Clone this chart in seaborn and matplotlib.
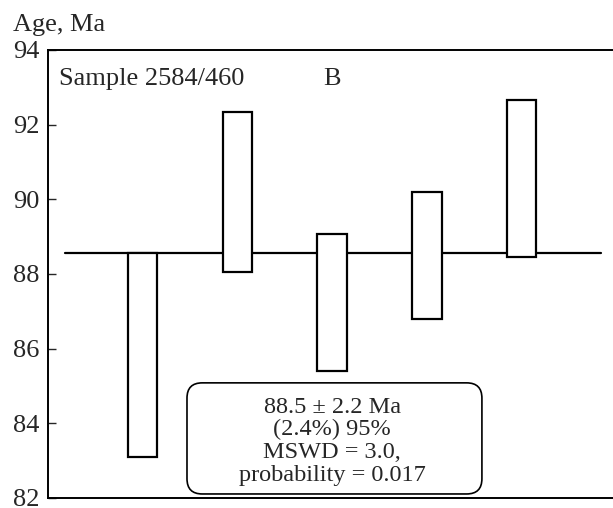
"""
Weighted mean age plot, sample 2584/460 (B).
"""

import matplotlib
matplotlib.use("Agg")
import matplotlib.pyplot as plt
from matplotlib.patches import FancyBboxPatch
import pandas as pd
import seaborn as sns


SPOTS: list[int] = [1, 2, 3, 4, 5]
AGE_LOW: list[float] = [83.09, 88.05, 85.39, 86.79, 88.45]
AGE_HIGH: list[float] = [88.55, 92.34, 89.06, 90.20, 92.67]
MEAN_AGE: float = 88.55
Y_TICKS: list[int] = [82, 84, 86, 88, 90, 92, 94]

SAMPLE_LABEL = "Sample 2584/460"
PANEL_LABEL = "B"
RESULT_TEXT = "88.5 ± 2.2 Ma\n(2.4%) 95%\nMSWD = 3.0,\nprobability = 0.017"


def create_dataframe() -> pd.DataFrame:
    """
    Build the spot table with box heights.
    """
    dataframe = pd.DataFrame(
        {"Spot": SPOTS, "Low": AGE_LOW, "High": AGE_HIGH}
    )
    dataframe["Height"] = dataframe["High"] - dataframe["Low"]
    return dataframe


def create_plot(dataframe: pd.DataFrame) -> None:
    """
    Draw the error boxes, mean line and labels.
    """
    sns.set_style("white")
    plt.rcParams["font.family"] = ["Liberation Serif", "DejaVu Serif"]

    fig = plt.figure(figsize=(6.13, 5.08), dpi=100)
    ax = fig.add_axes([48 / 613, 10 / 508, 565 / 613, 448 / 508])

    ax.axhline(MEAN_AGE, xmin=0.030, xmax=0.979, color="black",
               linewidth=1.6, zorder=1.5)

    sns.barplot(
        data=dataframe,
        x="Spot",
        y="Height",
        bottom=dataframe["Low"].tolist(),
        native_scale=True,
        width=0.31,
        errorbar=None,
        color="white",
        edgecolor="black",
        linewidth=1.6,
        zorder=3,
        ax=ax,
    )

    ax.set_xlim(0, 5.965)
    ax.set_ylim(82, 94)
    ax.set_yticks(Y_TICKS)
    ax.set_xticks([])
    ax.set_xlabel("")
    ax.set_ylabel("")
    ax.tick_params(axis="y", direction="in", length=6, width=1,
                   pad=6, labelsize=19, left=True)

    for side in ["top", "left", "bottom"]:
        ax.spines[side].set_visible(True)
        ax.spines[side].set_color("black")
        ax.spines[side].set_linewidth(1.4)
    ax.spines["right"].set_visible(False)

    ax.text(0.0195, 0.922, SAMPLE_LABEL, transform=ax.transAxes,
            fontsize=19, ha="left", va="baseline")
    ax.text(0.503, 0.922, PANEL_LABEL, transform=ax.transAxes,
            fontsize=19, ha="center", va="baseline")

    result_box = FancyBboxPatch(
        (0.246, 0.009), 0.522, 0.248,
        boxstyle="round,pad=0,rounding_size=0.027",
        mutation_aspect=565 / 448,
        transform=ax.transAxes,
        facecolor="white",
        edgecolor="black",
        linewidth=1.2,
        zorder=4,
    )
    ax.add_patch(result_box)
    ax.text(0.503, 0.127, RESULT_TEXT, transform=ax.transAxes,
            fontsize=17.5, ha="center", va="center", linespacing=1.1,
            zorder=5)

    fig.text(0.021, 0.9396, "Age, Ma", fontsize=19, ha="left",
             va="baseline")

    fig.savefig("out.png", dpi=100)


def main() -> None:
    """
    Execute plot.
    """
    create_plot(create_dataframe())


if __name__ == "__main__":
    main()
